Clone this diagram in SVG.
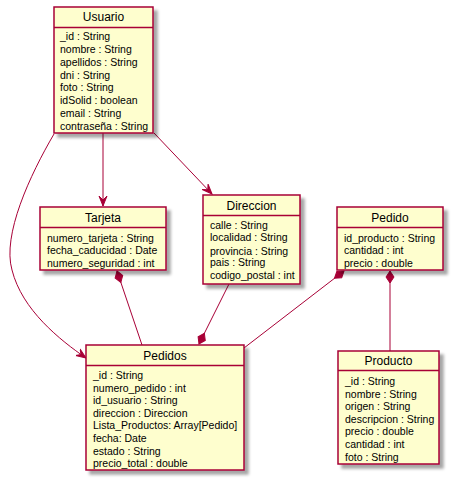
<svg xmlns="http://www.w3.org/2000/svg" width="456" height="485" viewBox="0 0 456 485">
  <style>
    .box { fill: #FEFECE; stroke: #A80036; stroke-width: 1.5; }
    .sep { stroke: #A80036; stroke-width: 1.5; }
    .title { font-family: "Liberation Sans", Arial, sans-serif; font-size: 12px; fill: #000; text-anchor: middle; }
    .attr { font-family: "Liberation Sans", Arial, sans-serif; font-size: 10.5px; fill: #000; }
    .link { fill: none; stroke: #A80036; stroke-width: 1; }
  </style>
  <defs>
    <filter id="shadow" x="-10%" y="-10%" width="130%" height="130%">
      <feDropShadow dx="4" dy="4" stdDeviation="1.6" flood-color="#000" flood-opacity="0.35"/>
    </filter>
    <!-- navigability arrowhead, tip at the path end -->
    <marker id="arrow" viewBox="-10 -5 11 10" refX="0" refY="0" markerWidth="11" markerHeight="10" markerUnits="userSpaceOnUse" orient="auto">
      <path d="M0,0 L-10,-4 L-6,0 L-10,4 Z" fill="#A80036" stroke="#A80036" stroke-width="1"/>
    </marker>
    <!-- composition diamond, tip at the path start -->
    <marker id="diamond" viewBox="-1 -5 14 10" refX="0" refY="0" markerWidth="14" markerHeight="10" markerUnits="userSpaceOnUse" orient="auto">
      <path d="M0,0 L6,-4 L12,0 L6,4 Z" fill="#A80036" stroke="#A80036" stroke-width="1"/>
    </marker>
  </defs>

  <g id="connectors">
    <path class="link" d="M103,133 L103,206" marker-end="url(#arrow)"/>
    <path class="link" d="M154,133 L212,194" marker-end="url(#arrow)"/>
    <path class="link" d="M54,134 C30,175 2,235 12,270 C22,310 60,340 86,358" marker-end="url(#arrow)"/>
    <path class="link" d="M117,271 L142,345" marker-start="url(#diamond)"/>
    <path class="link" d="M199,344 L229,284" marker-start="url(#diamond)"/>
    <path class="link" d="M344,271 L244,348" marker-start="url(#diamond)"/>
    <path class="link" d="M390,271 L390,351" marker-start="url(#diamond)"/>
  </g>

  <g id="Usuario">
    <rect class="box" x="54" y="7" width="99" height="126" filter="url(#shadow)"/>
    <line class="sep" x1="54" y1="27.5" x2="153" y2="27.5"/>
    <text class="title" x="103.5" y="21">Usuario</text>
    <text class="attr" x="60" y="40">_id : String</text>
    <text class="attr" x="60" y="52.9">nombre : String</text>
    <text class="attr" x="60" y="65.7">apellidos : String</text>
    <text class="attr" x="60" y="78.6">dni : String</text>
    <text class="attr" x="60" y="91.4">foto : String</text>
    <text class="attr" x="60" y="104.3">idSolid : boolean</text>
    <text class="attr" x="60" y="117.1">email : String</text>
    <text class="attr" x="60" y="130">contraseña : String</text>
  </g>

  <g id="Tarjeta">
    <rect class="box" x="40" y="207" width="126" height="63" filter="url(#shadow)"/>
    <line class="sep" x1="40" y1="227.5" x2="166" y2="227.5"/>
    <text class="title" x="103" y="221.5">Tarjeta</text>
    <text class="attr" x="47" y="241.5">numero_tarjeta : String</text>
    <text class="attr" x="47" y="254.3">fecha_caducidad : Date</text>
    <text class="attr" x="47" y="266.5">numero_seguridad : int</text>
  </g>

  <g id="Direccion">
    <rect class="box" x="203" y="195" width="97" height="89" filter="url(#shadow)"/>
    <line class="sep" x1="203" y1="215.5" x2="300" y2="215.5"/>
    <text class="title" x="251.5" y="209.5">Direccion</text>
    <text class="attr" x="210" y="228.5">calle : String</text>
    <text class="attr" x="210" y="241.3">localidad : String</text>
    <text class="attr" x="210" y="254.6">provincia : String</text>
    <text class="attr" x="210" y="266.4">pais : String</text>
    <text class="attr" x="210" y="278.5">codigo_postal : int</text>
  </g>

  <g id="Pedido">
    <rect class="box" x="337" y="207" width="106" height="63" filter="url(#shadow)"/>
    <line class="sep" x1="337" y1="227.5" x2="443" y2="227.5"/>
    <text class="title" x="390" y="221.5">Pedido</text>
    <text class="attr" x="344" y="241.5">id_producto : String</text>
    <text class="attr" x="344" y="254.3">cantidad : int</text>
    <text class="attr" x="344" y="266.5">precio : double</text>
  </g>

  <g id="Pedidos">
    <rect class="box" x="86" y="345" width="158" height="125" filter="url(#shadow)"/>
    <line class="sep" x1="86" y1="365.5" x2="244" y2="365.5"/>
    <text class="title" x="165" y="359.5">Pedidos</text>
    <text class="attr" x="93" y="379">_id : String</text>
    <text class="attr" x="93" y="391.6">numero_pedido : int</text>
    <text class="attr" x="93" y="404.2">id_usuario : String</text>
    <text class="attr" x="93" y="416.8">direccion : Direccion</text>
    <text class="attr" x="93" y="429.4">Lista_Productos: Array[Pedido]</text>
    <text class="attr" x="93" y="442">fecha: Date</text>
    <text class="attr" x="93" y="454.6">estado : String</text>
    <text class="attr" x="93" y="467.2">precio_total : double</text>
  </g>

  <g id="Producto">
    <rect class="box" x="338" y="351" width="101" height="113" filter="url(#shadow)"/>
    <line class="sep" x1="338" y1="370.5" x2="439" y2="370.5"/>
    <text class="title" x="388.5" y="364.5">Producto</text>
    <text class="attr" x="345" y="385">_id : String</text>
    <text class="attr" x="345" y="397.6">nombre : String</text>
    <text class="attr" x="345" y="410.2">origen : String</text>
    <text class="attr" x="345" y="422.8">descripcion : String</text>
    <text class="attr" x="345" y="435.4">precio : double</text>
    <text class="attr" x="345" y="448">cantidad : int</text>
    <text class="attr" x="345" y="460.6">foto : String</text>
  </g>
</svg>
